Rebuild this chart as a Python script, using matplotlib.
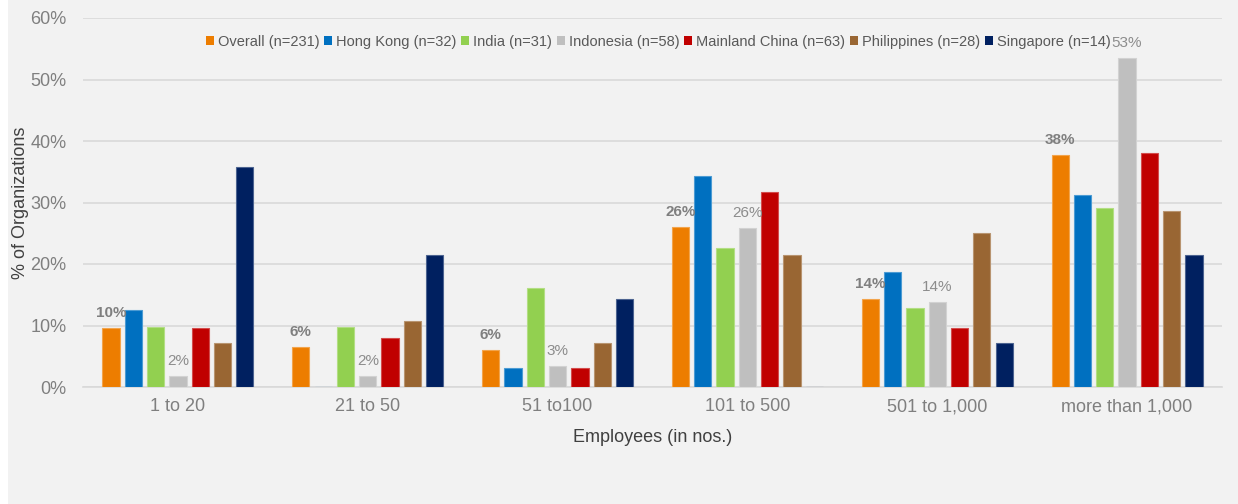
import matplotlib
matplotlib.use("Agg")
import matplotlib.pyplot as plt
from matplotlib.patches import Patch
import numpy as np

plt.rcParams['font.family'] = ['Liberation Sans', 'DejaVu Sans']

categories = ['1 to 20', '21 to 50', '51 to100', '101 to 500', '501 to 1,000', 'more than 1,000']
series_names = ['Overall (n=231)', 'Hong Kong (n=32)', 'India (n=31)', 'Indonesia (n=58)',
                'Mainland China (n=63)', 'Philippines (n=28)', 'Singapore (n=14)']
colors = ['#ED7D00', '#0070C0', '#92D050', '#BFBFBF', '#C00000', '#996633', '#002060']

# share of organizations per size band (%)
overall = [9.52, 6.49, 6.06, 25.97, 14.29, 37.66]
hong_kong = [12.50, 0.0, 3.13, 34.38, 18.75, 31.25]
india = [9.68, 9.68, 16.13, 22.58, 12.90, 29.03]
indonesia = [1.72, 1.72, 3.45, 25.86, 13.79, 53.45]
mainland_china = [9.52, 7.94, 3.17, 31.75, 9.52, 38.10]
philippines = [7.14, 10.71, 7.14, 21.43, 25.00, 28.57]
singapore = [35.71, 21.43, 14.29, 0.0, 7.14, 21.43]

series = [overall, hong_kong, india, indonesia, mainland_china, philippines, singapore]

bg = '#F2F2F2'
fig = plt.figure(figsize=(12.38, 5.04), dpi=100, facecolor='white')
fig.patches.append(plt.Rectangle((8 / 1238, 0), 1, 1, transform=fig.transFigure,
                                 facecolor=bg, edgecolor='none', zorder=-10))
ax = fig.add_axes([83 / 1238, 1 - 387 / 504, (1222 - 83) / 1238, (387 - 18) / 504])
ax.set_facecolor(bg)

x = np.arange(len(categories))
slot = 0.1175
width = 0.091
for i, (vals, col) in enumerate(zip(series, colors)):
    pos = x + (i - 3) * slot
    ax.bar(pos, vals, width=width, color=col, edgecolor=matplotlib.colors.to_hex(
        0.7 * np.array(matplotlib.colors.to_rgb(col)) + 0.3), linewidth=0.8, zorder=3)
    if i == 0:
        for px, v in zip(pos, vals):
            ax.text(px, v + 1.3, f'{v:.0f}%', ha='center', va='bottom', fontsize=11,
                    fontweight='bold', color='#7F7F7F', zorder=4)
    elif i == 3:
        for px, v in zip(pos, vals):
            ax.text(px, v + 1.3, f'{v:.0f}%', ha='center', va='bottom', fontsize=11,
                    color='#8C8C8C', zorder=4)

ax.set_ylim(0, 60)
ax.set_xlim(-0.5, len(categories) - 0.5)
ax.set_yticks(np.arange(0, 61, 10))
ax.set_yticklabels([f'{v}%' for v in range(0, 61, 10)])
ax.set_xticks(x)
ax.set_xticklabels(categories)
ax.tick_params(axis='both', length=0, labelsize=13, labelcolor='#7F7F7F')
ax.tick_params(axis='y', pad=12)
ax.tick_params(axis='x', pad=8)
ax.grid(axis='y', color='#D9D9D9', linewidth=1.2, zorder=0)
for side in ['top', 'right', 'left']:
    ax.spines[side].set_visible(False)
ax.spines['bottom'].set_color('#D9D9D9')
ax.spines['bottom'].set_linewidth(1.2)

ax.set_xlabel('Employees (in nos.)', fontsize=13, color='#404040', labelpad=10)
ax.set_ylabel('% of Organizations', fontsize=13, color='#404040', labelpad=1)

handles = [Patch(facecolor=c, edgecolor='none', label=n) for c, n in zip(colors, series_names)]
ax.legend(handles=handles, loc='upper center', bbox_to_anchor=(0.505, 0.99), ncol=7,
          frameon=False, fontsize=10.5, handlelength=0.55, handleheight=0.55,
          handletextpad=0.25, columnspacing=0.35, labelcolor='#595959')

fig.savefig('out.png', dpi=100, facecolor=fig.get_facecolor())
